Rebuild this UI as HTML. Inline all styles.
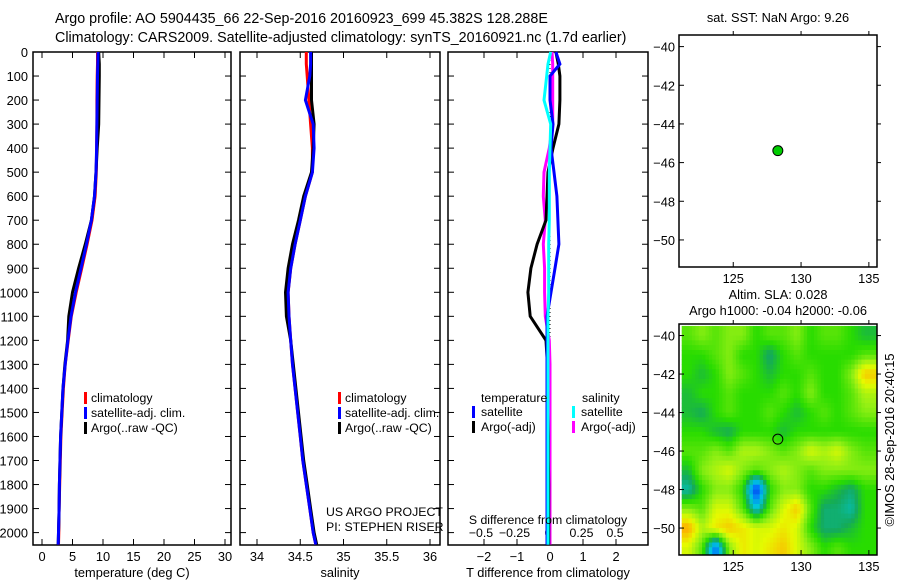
<!DOCTYPE html>
<html><head><meta charset="utf-8"><style>
body{margin:0;background:#fff;}
svg{display:block;font-family:"Liberation Sans",sans-serif;font-size:12.8px;}
.lg{font-size:12.3px;}
</style></head><body>
<svg id="fig" width="900" height="580" viewBox="0 0 900 580">
<text x="55" y="23" style="font-size:14.3px">Argo profile: AO 5904435_66 22-Sep-2016 20160923_699 45.382S 128.288E</text>
<text x="55" y="42" style="font-size:14.3px">Climatology: CARS2009. Satellite-adjusted climatology: synTS_20160921.nc (1.7d earlier)</text>
<g id="g"></g>
</svg>
<script>
// ---- data ----
const depths=[0,50,100,200,300,400,500,600,700,800,900,1000,1100,1200,1300,1400,1500,1600,1700,1800,1900,2000,2050];
const tempClim=[9.1,9.1,9.05,9.0,9.0,8.95,8.9,8.7,8.2,7.4,6.5,5.6,4.8,4.3,3.8,3.5,3.3,3.1,3.0,2.9,2.8,2.75,2.7];
const tempSat=[9.2,9.15,9.1,9.05,9.0,8.95,8.85,8.6,8.1,7.3,6.4,5.5,4.75,4.25,3.8,3.45,3.25,3.05,2.95,2.85,2.8,2.7,2.65];
const tempArgo=[9.3,9.4,9.4,9.35,9.3,9.05,8.85,8.6,8.1,7.1,6.0,5.0,4.4,4.2,3.75,3.45,3.25,3.05,2.95,2.85,2.8,2.7,2.65];
const salClim=[34.57,34.57,34.58,34.6,34.62,34.64,34.64,34.56,34.5,34.44,34.39,34.36,34.37,34.39,34.41,34.44,34.47,34.5,34.53,34.57,34.61,34.65,34.68];
const salSat=[34.62,34.62,34.61,34.56,34.65,34.66,34.64,34.56,34.5,34.44,34.39,34.36,34.37,34.39,34.41,34.44,34.47,34.5,34.53,34.57,34.61,34.65,34.68];
const salArgo=[34.63,34.63,34.63,34.63,34.66,34.65,34.63,34.54,34.48,34.41,34.36,34.33,34.34,34.39,34.42,34.45,34.48,34.51,34.54,34.58,34.62,34.66,34.69];
const dTArgo=[0.18,0.25,0.3,0.3,0.27,0.09,-0.06,-0.09,-0.12,-0.39,-0.58,-0.67,-0.6,-0.12,-0.08,-0.07,-0.06,-0.05,-0.05,-0.04,-0.04,-0.04,-0.04];
const dTSat=[0.18,0.3,0.0,0.0,0.09,0.03,0.12,0.21,0.24,0.27,0.15,0.03,-0.09,-0.09,-0.09,-0.09,-0.09,-0.09,-0.09,-0.09,-0.09,-0.09,-0.09];
const dSSat=[0.02,0.0,-0.01,-0.03,0.02,0.015,0.01,0.01,0.01,0.005,0.005,0.005,0.0,0.0,0.0,0.0,0.0,0.0,0.0,0.0,0.0,0.0,0.0];
const dSArgo=[0.03,0.035,0.035,0.035,0.035,0.01,-0.03,-0.035,-0.02,-0.035,-0.025,-0.025,-0.02,0.01,0.015,0.015,0.015,0.015,0.015,0.015,0.015,0.015,0.015];
const depthTicks=[0,100,200,300,400,500,600,700,800,900,1000,1100,1200,1300,1400,1500,1600,1700,1800,1900,2000];
const tempTicks=[0,5,10,15,20,25,30];
const salTicks=[34,34.5,35,35.5,36];
const tdTicks=[-2,-1,0,1,2];
const sdTicks=[-0.5,-0.25,0,0.25,0.5];
const sdTickLabels=["\u22120.5","\u22120.25","0","0.25","0.5"];
const tdTickLabels=["\u22122","\u22121","0","1","2"];
const lonTicks=[125,130,135];
const latTicks=[-40,-42,-44,-46,-48,-50];
const floatLon=128.288, floatLat=-45.382;
const slaLons=[121.7,122.7,123.7,124.7,125.7,126.7,127.7,128.7,129.7,130.7,131.7,132.7,133.7,134.7,135.7];
const slaLats=[-40,-41,-42,-43,-44,-45,-46,-47,-48,-49,-50,-51];
const slaRow0=[0.55,0.6,0.55,0.6,0.6,0.5,0.55,0.55,0.6,0.5,0.55,0.55,0.5,0.45,0.45];
const slaRow1=[0.5,0.5,0.55,0.6,0.5,0.5,0.4,0.5,0.55,0.5,0.5,0.5,0.5,0.55,0.55];
const slaRow2=[0.5,0.45,0.5,0.6,0.55,0.5,0.45,0.5,0.5,0.55,0.5,0.5,0.6,0.8,0.8];
const slaRow3=[0.45,0.5,0.5,0.55,0.5,0.5,0.5,0.55,0.5,0.6,0.5,0.5,0.55,0.65,0.65];
const slaRow4=[0.45,0.42,0.5,0.55,0.5,0.5,0.55,0.5,0.45,0.5,0.55,0.5,0.55,0.6,0.6];
const slaRow5=[0.5,0.5,0.45,0.42,0.5,0.5,0.5,0.45,0.5,0.5,0.5,0.5,0.5,0.5,0.5];
const slaRow6=[0.55,0.55,0.6,0.55,0.65,0.65,0.6,0.55,0.6,0.7,0.65,0.7,0.6,0.55,0.55];
const slaRow7=[0.45,0.6,0.65,0.7,0.6,0.55,0.6,0.65,0.6,0.55,0.6,0.6,0.6,0.6,0.6];
const slaRow8=[0.35,0.5,0.6,0.6,0.5,0.05,0.5,0.6,0.6,0.5,0.5,0.45,0.4,0.5,0.5];
const slaRow9=[0.6,0.55,0.7,0.7,0.55,0.3,0.55,0.7,0.8,0.55,0.4,0.4,0.35,0.5,0.5];
const slaRow10=[0.85,0.65,0.75,0.8,0.75,0.7,0.7,0.75,0.7,0.5,0.4,0.4,0.45,0.5,0.5];
const slaRow11=[0.7,0.55,0.15,0.6,0.75,0.7,0.75,0.8,0.7,0.6,0.5,0.55,0.5,0.5,0.5];
const slaGrid=[slaRow0,slaRow1,slaRow2,slaRow3,slaRow4,slaRow5,slaRow6,slaRow7,slaRow8,slaRow9,slaRow10,slaRow11];

// ---- drawing ----
const NS="http://www.w3.org/2000/svg";
const G=document.getElementById('g');
function mk(tag,attrs,parent){const e=document.createElementNS(NS,tag);for(const k in attrs)e.setAttribute(k,attrs[k]);(parent||G).appendChild(e);return e;}
function txt(x,y,s,anchor,parent){const t=mk('text',{x:x,y:y,'text-anchor':anchor||'start'},parent);t.textContent=s;return t;}
const yD=d=>52+d*0.2403;
function lin(d0,d1,p0,p1){return v=>p0+(v-d0)*(p1-p0)/(d1-d0);}
const xT=lin(0,30,42,225), xS=lin(34,36,257,430), xTd=lin(-2,2,484,616), xSd=lin(-0.5,0.5,481,615);
const pTop=52,pBot=545;

function panel(x0,x1,name){
  const r=mk('rect',{x:x0,y:pTop,width:x1-x0,height:pBot-pTop,fill:'#fff',stroke:'#000','stroke-width':1.5});
  
  
  depthTicks.forEach(d=>{mk('line',{x1:x0,x2:x0+6,y1:yD(d),y2:yD(d),stroke:'#000'});mk('line',{x1:x1-6,x2:x1,y1:yD(d),y2:yD(d),stroke:'#000'});});
}
function xticks(ticks,labels,fx,y){ticks.forEach((t,i)=>{const x=fx(t);mk('line',{x1:x,x2:x,y1:pBot,y2:pBot-6,stroke:'#000'});mk('line',{x1:x,x2:x,y1:pTop,y2:pTop+6,stroke:'#000'});const l=txt(x,y,labels[i],'middle');});}
function profile(vals,fx,color,w,name){
  const p=mk('polyline',{points:vals.map((v,i)=>fx(v).toFixed(1)+','+yD(depths[i]).toFixed(1)).join(' '),fill:'none',stroke:color,'stroke-width':w});
  
  
}
depthTicks.forEach(d=>{const l=txt(28,yD(d)+5,String(d),'end');});

// panel 1
panel(33,231,'temperature-panel');
xticks(tempTicks,tempTicks.map(String),xT,561);
profile(tempClim,xT,'#f00',3,'temp-climatology-line');
profile(tempArgo,xT,'#000',3,'temp-argo-line');
profile(tempSat,xT,'#00f',3,'temp-satellite-line');
let t=txt(132,577,'temperature (deg C)','middle');
function legend3(x,y,nm){
  [['#f00','climatology'],['#00f','satellite-adj. clim.'],['#000','Argo(..raw -QC)']].forEach((e,i)=>{
    mk('rect',{x:x,y:y+i*15-10,width:3,height:12,fill:e[0]});
    const l=txt(x+7,y+i*15,e[1]);l.setAttribute('class','lg');
  });
}
legend3(84,402,'temp');

// panel 2
panel(240,440,'salinity-panel');
xticks(salTicks,['34','34.5','35','35.5','36'],xS,561);
profile(salClim,xS,'#f00',3,'sal-climatology-line');
profile(salArgo,xS,'#000',3,'sal-argo-line');
profile(salSat,xS,'#00f',3,'sal-satellite-line');
t=txt(340,577,'salinity','middle');
legend3(338,402,'sal');
t=txt(326,516,'US ARGO PROJECT');t.setAttribute('class','lg');
t=txt(326,531,'PI: STEPHEN RISER');t.setAttribute('class','lg');

// panel 3
panel(448,648,'difference-panel');
tdTicks.forEach((v,i)=>{const x=xTd(v);mk('line',{x1:x,x2:x,y1:pBot,y2:pBot-6,stroke:'#000'});const l=txt(x,561,tdTickLabels[i],'middle');});
tdTicks.forEach(v=>{const x=xTd(v);mk('line',{x1:x,x2:x,y1:pTop,y2:pTop+6,stroke:'#000'});});
sdTicks.forEach((v,i)=>{const l=txt(xSd(v),537,sdTickLabels[i],'middle');l.setAttribute('class','lg');});
mk('line',{x1:xTd(0),x2:xTd(0),y1:pTop,y2:pBot,stroke:'#000','stroke-dasharray':'1,3'});
profile(dSArgo,xSd,'#f0f',3,'sal-diff-argo-line');
profile(dTArgo,xTd,'#000',3,'temp-diff-argo-line');
profile(dTSat,xTd,'#00f',3,'temp-diff-satellite-line');
profile(dSSat,xSd,'#0ff',3,'sal-diff-satellite-line');
t=txt(548,524,'S difference from climatology','middle');t.setAttribute('class','lg');
t=txt(548,577,'T difference from climatology','middle');
t=txt(481,402,'temperature');t.setAttribute('class','lg');
t=txt(582,402,'salinity');t.setAttribute('class','lg');
[['#00f','satellite',472],['#000','Argo(-adj)',472],['#0ff','satellite',572],['#f0f','Argo(-adj)',572]].forEach((e,i)=>{
  const y=416+(i%2)*15;mk('rect',{x:e[2],y:y-10,width:3,height:12,fill:e[0]});
  const l=txt(e[2]+9,y,e[1]);l.setAttribute('class','lg');
});

// maps
function mapAxes(x0,y0,x1,y1,name){
  const fx=lin(121.0,135.6,x0,x1), fy=lin(-39.4,-51.4,y0,y1);
  return {fx,fy,draw:()=>{
    const r=mk('rect',{x:x0,y:y0,width:x1-x0,height:y1-y0,fill:'none',stroke:'#000','stroke-width':1.5});
    
    
    lonTicks.forEach(v=>{const x=fx(v);mk('line',{x1:x,x2:x,y1:y1,y2:y1-5,stroke:'#000'});mk('line',{x1:x,x2:x,y1:y0,y2:y0-4,stroke:'#000'});const l=txt(x,y1+16,String(v),'middle');});
    latTicks.forEach(v=>{const y=fy(v);mk('line',{x1:x0,x2:x0+5,y1:y,y2:y,stroke:'#000'});mk('line',{x1:x1,x2:x1+4,y1:y,y2:y,stroke:'#000'});const l=txt(x0-4,y+5,String(v).replace('-','\u2212'),'end');});
  }};
}
const m1=mapAxes(679,35,877,267,'sst-map-frame');
m1.draw();
const dot=mk('circle',{cx:m1.fx(floatLon),cy:m1.fy(floatLat),r:5,fill:'#0c0',stroke:'#000','stroke-width':1});


t=txt(778,22,'sat. SST: NaN Argo: 9.26','middle');

const m2=mapAxes(679,324,877,555,'sla-map-frame');
function cmap(v){
  const stops=[[0,[0,0,140]],[0.15,[0,110,255]],[0.3,[0,200,220]],[0.42,[20,170,90]],[0.5,[40,220,0]],[0.62,[150,240,20]],[0.72,[230,250,0]],[0.85,[255,170,0]],[1,[255,90,0]]];
  for(let i=1;i<stops.length;i++){if(v<=stops[i][0]){const a=stops[i-1],b=stops[i],f=(v-a[0])/(b[0]-a[0]);return 'rgb('+a[1].map((c,k)=>Math.round(c+(b[1][k]-c)*f)).join(',')+')';}}
  return 'rgb(255,90,0)';
}
const clip=mk('clipPath',{id:'mc'});mk('rect',{x:679,y:324,width:198,height:231},clip);
const hg=mk('g',{'clip-path':'url(#mc)'});


// bilinear-smoothed rendering of the grid (sub-cells)
const SUB=4, nR=slaGrid.length, nC=slaGrid[0].length;
function sample(r,c){r=Math.max(0,Math.min(nR-1,r));c=Math.max(0,Math.min(nC-1,c));
  const r0=Math.floor(r),c0=Math.floor(c),r1=Math.min(nR-1,r0+1),c1=Math.min(nC-1,c0+1),fr=r-r0,fc=c-c0;
  return slaGrid[r0][c0]*(1-fr)*(1-fc)+slaGrid[r0][c1]*(1-fr)*fc+slaGrid[r1][c0]*fr*(1-fc)+slaGrid[r1][c1]*fr*fc;}
for(let ri=0;ri<nR;ri++)for(let ci=0;ci<nC;ci++)for(let a=0;a<SUB;a++)for(let b=0;b<SUB;b++){
  const fr=ri-0.5+(a+0.5)/SUB, fc=ci-0.5+(b+0.5)/SUB;
  const lat0=slaLats[ri]+0.5-a/SUB, lon0=slaLons[ci]-0.5+b/SUB;
  const x=m2.fx(lon0), y=m2.fy(lat0);
  const c=mk('rect',{x:x.toFixed(2),y:y.toFixed(2),width:(m2.fx(lon0+1/SUB)-x+0.4).toFixed(2),height:(m2.fy(lat0-1/SUB)-y+0.4).toFixed(2),fill:cmap(sample(fr,fc))},hg);
  
  
}
m2.draw();
const ring=mk('circle',{cx:m2.fx(floatLon),cy:m2.fy(floatLat),r:5,fill:'none',stroke:'#000','stroke-width':1});


t=txt(778,299,'Altim. SLA: 0.028','middle');
t=txt(778,315,'Argo h1000: -0.04 h2000: -0.06','middle');
t=txt(0,0,'\u00a9IMOS 28-Sep-2016 20:40:15','middle');t.setAttribute('transform','translate(894,440) rotate(-90)');
</script>
</body></html>
